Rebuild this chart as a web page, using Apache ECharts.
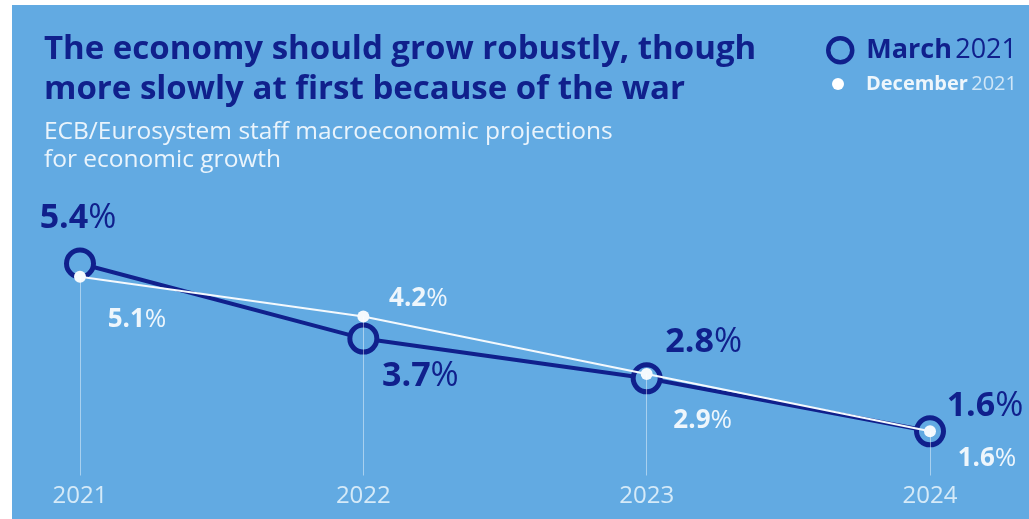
<!DOCTYPE html>
<html><head><meta charset="utf-8">
<script src="https://cdn.jsdelivr.net/npm/echarts@6/dist/echarts.min.js"></script>
<style>
html,body{margin:0;padding:0;background:#ffffff;width:1029px;height:519px;overflow:hidden}
#c{position:absolute;left:12px;top:5px;width:1017px;height:514px}
</style></head><body>
<div id="c"></div>
<script>
const years = ['2021', '2022', '2023', '2024'];
const march2021 = [5.4, 3.7, 2.8, 1.6];
const december2021 = [5.1, 4.2, 2.9, 1.6];
const titleText = 'The economy should grow robustly, though\nmore slowly at first because of the war';
const subText = 'ECB/Eurosystem staff macroeconomic projections\nfor economic growth';

const BG = '#62aae2';
const NAVY = '#10208c';
const LIGHT = '#eef6fc';
const FONT = 'Open Sans';
const Y_MIN = 0.6;

const darkOffsets = [[-2, -45], [57, 38], [57, -36], [55, -25]];
const whiteOffsets = [[57, 43], [55, -18], [56, 47], [57, 27]];

const chart = echarts.init(document.getElementById('c'), null, {renderer: 'canvas'});

function mkData(vals, offs) {
  return vals.map((v, i) => ({
    value: v,
    label: {offset: offs[i]}
  }));
}

const option = {
  backgroundColor: BG,
  animation: false,
  title: {
    left: 32, top: 25,
    text: titleText,
    textStyle: {fontFamily: FONT, fontSize: 33, fontWeight: 'bold', color: NAVY, lineHeight: 40},
    subtext: subText,
    subtextStyle: {fontFamily: FONT, fontSize: 24.5, color: '#eaf4fc', lineHeight: 28},
    itemGap: 8,
    padding: 0
  },
  legend: [
    {
      left: 814, top: 31, padding: 0,
      itemWidth: 24, itemHeight: 24,
      data: [{
        name: 'March 2021', icon: 'circle',
        itemStyle: {color: 'transparent', borderColor: NAVY, borderWidth: 4.5}
      }],
      formatter: () => '{b|March} {r|2021}',
      textStyle: {
        padding: [0, 0, 0, 9],
        rich: {
          b: {fontFamily: FONT, fontSize: 27, fontWeight: 'bold', color: NAVY},
          r: {fontFamily: FONT, fontSize: 27, color: NAVY}
        }
      }
    },
    {
      left: 820, top: 69, padding: 0,
      itemWidth: 12, itemHeight: 12,
      data: [{
        name: 'December 2021', icon: 'circle',
        itemStyle: {color: '#ffffff', borderWidth: 0}
      }],
      formatter: () => '{b|December} {r|2021}',
      textStyle: {
        padding: [0, 0, 0, 17],
        rich: {
          b: {fontFamily: FONT, fontSize: 20, fontWeight: 'bold', color: LIGHT},
          r: {fontFamily: FONT, fontSize: 20, color: '#cfe6f7'}
        }
      }
    }
  ],
  grid: {left: 68, right: 99, top: 232, bottom: 43.5},
  xAxis: {
    type: 'category', data: years, boundaryGap: false,
    axisLine: {show: false}, axisTick: {show: false}, splitLine: {show: false},
    axisLabel: {fontFamily: FONT, fontSize: 24, color: '#d5eaf8', margin: 9}
  },
  yAxis: {
    type: 'value', min: Y_MIN, max: 6,
    show: false
  },
  series: [
    {
      name: 'guides', type: 'line', data: [], z: 1, silent: true,
      markLine: {
        silent: true, symbol: 'none', animation: false,
        label: {show: false},
        lineStyle: {color: 'rgba(255,255,255,0.45)', width: 1, type: 'solid'},
        data: years.map((y, i) => [
          {coord: [y, december2021[i]]},
          {coord: [y, Y_MIN]}
        ])
      }
    },
    {
      name: 'March 2021', type: 'line', z: 2,
      data: mkData(march2021, darkOffsets),
      symbol: 'circle', symbolSize: 27,
      lineStyle: {color: NAVY, width: 4},
      itemStyle: {color: BG, borderColor: NAVY, borderWidth: 5},
      label: {
        show: true, position: 'inside',
        formatter: p => '{n|' + p.value.toFixed(1) + '}{p|%}',
        rich: {
          n: {fontFamily: FONT, fontSize: 34, fontWeight: 'bold', color: NAVY},
          p: {fontFamily: FONT, fontSize: 34, color: NAVY}
        }
      }
    },
    {
      name: 'December 2021', type: 'line', z: 3,
      data: mkData(december2021, whiteOffsets),
      symbol: 'circle', symbolSize: 12,
      lineStyle: {color: '#f4f9fd', width: 2},
      itemStyle: {color: '#f4f9fd', borderWidth: 0},
      label: {
        show: true, position: 'inside',
        formatter: p => '{n|' + p.value.toFixed(1) + '}{p|%}',
        rich: {
          n: {fontFamily: FONT, fontSize: 26, fontWeight: 'bold', color: LIGHT},
          p: {fontFamily: FONT, fontSize: 26, color: LIGHT}
        }
      }
    }
  ]
};
chart.setOption(option);
</script>
</body></html>
